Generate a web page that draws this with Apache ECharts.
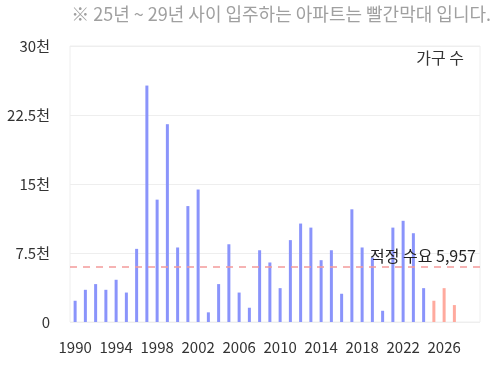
<!DOCTYPE html>
<html><head><meta charset="utf-8">
<script src="https://cdn.jsdelivr.net/npm/echarts@6/dist/echarts.min.js"></script>
<style>html,body{margin:0;padding:0;background:#fff}#c{width:501px;height:371px}</style>
</head><body><div id="c"></div>
<script>
const years = [];
for (let y = 1990; y <= 2029; y++) years.push(String(y));
// 1990 - 2024 (입주 완료)
const pastValues = [2310,3500,4120,3500,4590,3200,7950,25700,13300,21500,8100,12600,14400,1050,4120,8450,3200,1550,7800,6470,3680,8900,10700,10260,6720,7800,3070,12250,8100,7000,1220,10260,11000,9650,3680];
// 2025 - 2029 (입주 예정)
const futureValues = [2310,3680,1840,null,null];
const yTicks = [0,7500,15000,22500,30000];
const demand = 5957;

const blueData = pastValues.concat(futureValues.map(()=>null));
const redData = pastValues.map(()=>null).concat(futureValues);

const chart = echarts.init(document.getElementById('c'));
const font = '"Noto Sans CJK KR","Noto Sans",sans-serif';
chart.setOption({
  animation:false,
  title:{text:'※ 25년 ~ 29년 사이 입주하는 아파트는 빨간막대 입니다.',right:5,top:0,
    textStyle:{fontSize:18,fontWeight:'normal',color:'#a0a0a0',fontFamily:font}},
  graphic:[{type:'text',right:37,top:50,style:{text:'가구 수',fontSize:16,fill:'#333',fontFamily:font}}],
  grid:{left:70,right:21,top:46,bottom:49,show:true,borderColor:'#eeeeee',borderWidth:1},
  xAxis:{type:'category',data:years,boundaryGap:true,
    axisLine:{show:false},axisTick:{show:false},
    axisLabel:{interval:3,color:'#333',fontSize:15,margin:18,fontFamily:font}},
  yAxis:{type:'value',min:0,max:30000,interval:7500,
    axisLabel:{color:'#333',fontSize:15,margin:20,fontFamily:font,
      formatter:v=>v===0?'0':(v/1000)+'천'},
    splitLine:{lineStyle:{color:'#eeeeee'}}},
  series:[
    {type:'bar',data:blueData,barWidth:3,barGap:'-100%',itemStyle:{color:'#8a94fb'},
     markLine:{symbol:'none',silent:true,data:[{yAxis:demand}],
       lineStyle:{type:[7,6],color:'#f39a9a',width:1.5},
       label:{position:'insideEndTop',formatter:'적정 수요 5,957',color:'#222',fontSize:16,fontFamily:font,distance:[4,3]}}},
    {type:'bar',data:redData,barWidth:3,barGap:'-100%',itemStyle:{color:'#ffaa9e'}}
  ]
});
</script></body></html>
